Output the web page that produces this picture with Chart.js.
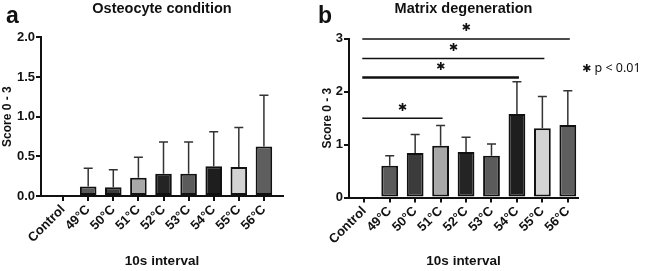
<!DOCTYPE html>
<html lang="en">
<head>
  <meta charset="UTF-8">
  <title>Osteocyte condition / Matrix degeneration</title>
  <script src="https://cdn.jsdelivr.net/npm/chart.js"></script>
  <style>
    body { margin: 0; background: #fff; }
    #page { position: relative; width: 649px; height: 271px; overflow: hidden; font-family: 'Liberation Sans', Arial, sans-serif; }
    .panel { position: absolute; top: 0; height: 271px; }
    #panelA { left: 0; width: 320px; }
    #panelB { left: 320px; width: 329px; }
    .letter { position: absolute; font-weight: bold; font-size: 23px; color: #111; line-height: 1; }
    #legend { position: absolute; left: 582px; top: 59px; font-family: 'Noto Sans', sans-serif; font-size: 12.5px; color: #111; }
    #legend b { font-family: 'DejaVu Sans', sans-serif; font-size: 11px; }
  </style>
</head>
<body>
  <div id="page">
    <div class="panel" id="panelA"><canvas id="chartA"></canvas></div>
    <div class="panel" id="panelB"><canvas id="chartB"></canvas></div>
    <div class="letter" style="left:6px; top:4px;">a</div>
    <div class="letter" style="left:318px; top:4px;">b</div>
    <div id="legend"><b>✱</b> p &lt; 0.01</div>
  </div>

  <script>
    // data
    const categories = ['Control', '49°C', '50°C', '51°C', '52°C', '53°C', '54°C', '55°C', '56°C'];

    const osteoMean = [0, 0.12, 0.11, 0.23, 0.28, 0.28, 0.375, 0.365, 0.625];
    const osteoUpper = [0, 0.35, 0.33, 0.49, 0.68, 0.68, 0.81, 0.865, 1.27];

    const matrixMean = [0, 0.6, 0.84, 0.98, 0.86, 0.79, 1.58, 1.31, 1.37];
    const matrixUpper = [0, 0.79, 1.19, 1.36, 1.14, 1.01, 2.19, 1.91, 2.02];

    // significance brackets (Control vs. category index)
    const sigEnd = [8, 7, 6, 3];
    const sigLevel = [3.0, 2.63, 2.27, 1.5];

    const yTicksA = [0, 0.5, 1.0, 1.5, 2.0];
    const yTicksB = [0, 1, 2, 3];

    const barColors = ['#ffffff', '#5b5b5b', '#3b3b3b', '#a8a8a8', '#242424', '#5b5b5b', '#1e1e1e', '#d3d3d3', '#5e5e5e'];

    Chart.defaults.font.family = "'Liberation Sans', Arial, sans-serif";
    Chart.defaults.color = '#111';

    // upper whiskers
    const errorBars = {
      id: 'errorBars',
      afterDatasetsDraw(chart, args, opts) {
        const ctx = chart.ctx;
        const y = chart.scales.y;
        const meta = chart.getDatasetMeta(0);
        ctx.save();
        ctx.strokeStyle = '#333';
        ctx.lineWidth = 1.5;
        meta.data.forEach((bar, i) => {
          const top = opts.upper[i];
          if (!(top > opts.mean[i])) return;
          const yTop = y.getPixelForValue(top);
          ctx.beginPath();
          ctx.moveTo(bar.x, bar.y);
          ctx.lineTo(bar.x, yTop);
          ctx.moveTo(bar.x - 4.5, yTop);
          ctx.lineTo(bar.x + 4.5, yTop);
          ctx.stroke();
        });
        ctx.restore();
      }
    };

    // significance lines with asterisks
    const sigBars = {
      id: 'sigBars',
      afterDraw(chart, args, opts) {
        if (!opts.ends) return;
        const ctx = chart.ctx;
        const x = chart.scales.x, y = chart.scales.y;
        ctx.save();
        ctx.strokeStyle = '#111';
        ctx.fillStyle = '#111';
        ctx.font = "11px 'DejaVu Sans'";
        ctx.textAlign = 'center';
        ctx.textBaseline = 'middle';
        opts.ends.forEach((end, k) => {
          const x0 = x.getPixelForValue(0) - 2;
          const x1 = x.getPixelForValue(end) + 2;
          const yy = y.getPixelForValue(opts.levels[k]);
          ctx.lineWidth = opts.widths[k];
          ctx.beginPath();
          ctx.moveTo(x0, yy);
          ctx.lineTo(x1, yy);
          ctx.stroke();
          ctx.fillText('✱', (x0 + x1) / 2, yy - 10.5);
        });
        ctx.restore();
      }
    };

    function makeChart(id, title, mean, upper, yMax, yTicks, yFmt, geom, sig) {
      return new Chart(document.getElementById(id), {
        type: 'bar',
        data: {
          datasets: [{
            data: categories.map((c, i) => ({ x: i, y: mean[i] })),
            backgroundColor: barColors,
            borderColor: '#111',
            borderWidth: 2,
            borderSkipped: false,
            barPercentage: 0.66,
            categoryPercentage: 1
          }]
        },
        options: {
          responsive: true,
          maintainAspectRatio: false,
          animation: false,
          layout: { padding: { left: 0, right: geom.right, top: 0, bottom: 0 } },
          plugins: {
            legend: { display: false },
            tooltip: { enabled: false },
            title: {
              display: true,
              text: title,
              fullSize: false,
              font: { size: 14.5, weight: 'bold' },
              padding: { top: 0, bottom: geom.titleGap }
            },
            errorBars: { mean: mean, upper: upper },
            sigBars: sig
          },
          scales: {
            x: {
              type: 'linear',
              min: geom.xMin,
              max: geom.xMax,
              offset: false,
              grid: { offset: false, drawOnChartArea: false, color: '#111', lineWidth: 2, tickLength: 5 },
              border: { color: '#111', width: 2 },
              afterBuildTicks: (s) => { s.ticks = categories.map((c, i) => ({ value: i })); },
              ticks: {
                autoSkip: false,
                maxRotation: 45,
                minRotation: 45,
                padding: 1,
                font: { size: 13, weight: 'bold' },
                callback: (v) => categories[v]
              },
              title: {
                display: true,
                text: '10s interval',
                font: { size: 13.5, weight: 'bold' },
                padding: { top: 0, bottom: 1.5 }
              },
              afterFit: (s) => { s.height = geom.xHeight; }
            },
            y: {
              min: 0,
              max: yMax,
              grid: { drawOnChartArea: false, color: '#111', lineWidth: 2, tickLength: 5 },
              border: { color: '#111', width: 2 },
              afterBuildTicks: (s) => { s.ticks = yTicks.map(v => ({ value: v })); },
              ticks: {
                padding: 1,
                font: { size: 13, weight: 'bold' },
                callback: yFmt
              },
              title: {
                display: true,
                text: 'Score 0 - 3',
                font: { size: 12, weight: 'bold' },
                padding: { top: 0, bottom: 0 }
              },
              afterFit: (s) => { s.width = geom.yWidth; }
            }
          }
        },
        plugins: [errorBars, sigBars]
      });
    }

    makeChart('chartA', 'Osteocyte condition', osteoMean, osteoUpper, 2, yTicksA,
      (v) => v.toFixed(1),
      { right: 37, titleGap: 20, xMin: -0.88, xMax: 8.76, xHeight: 75, yWidth: 41 },
      {});

    makeChart('chartB', 'Matrix degeneration', matrixMean, matrixUpper, 3, yTicksB,
      (v) => String(v),
      { right: 71, titleGap: 21.5, xMin: -0.6, xMax: 8.4, xHeight: 73.5, yWidth: 29 },
      { ends: sigEnd, levels: sigLevel, widths: [1.5, 1.5, 2.5, 1.5] });
  </script>
</body>
</html>
